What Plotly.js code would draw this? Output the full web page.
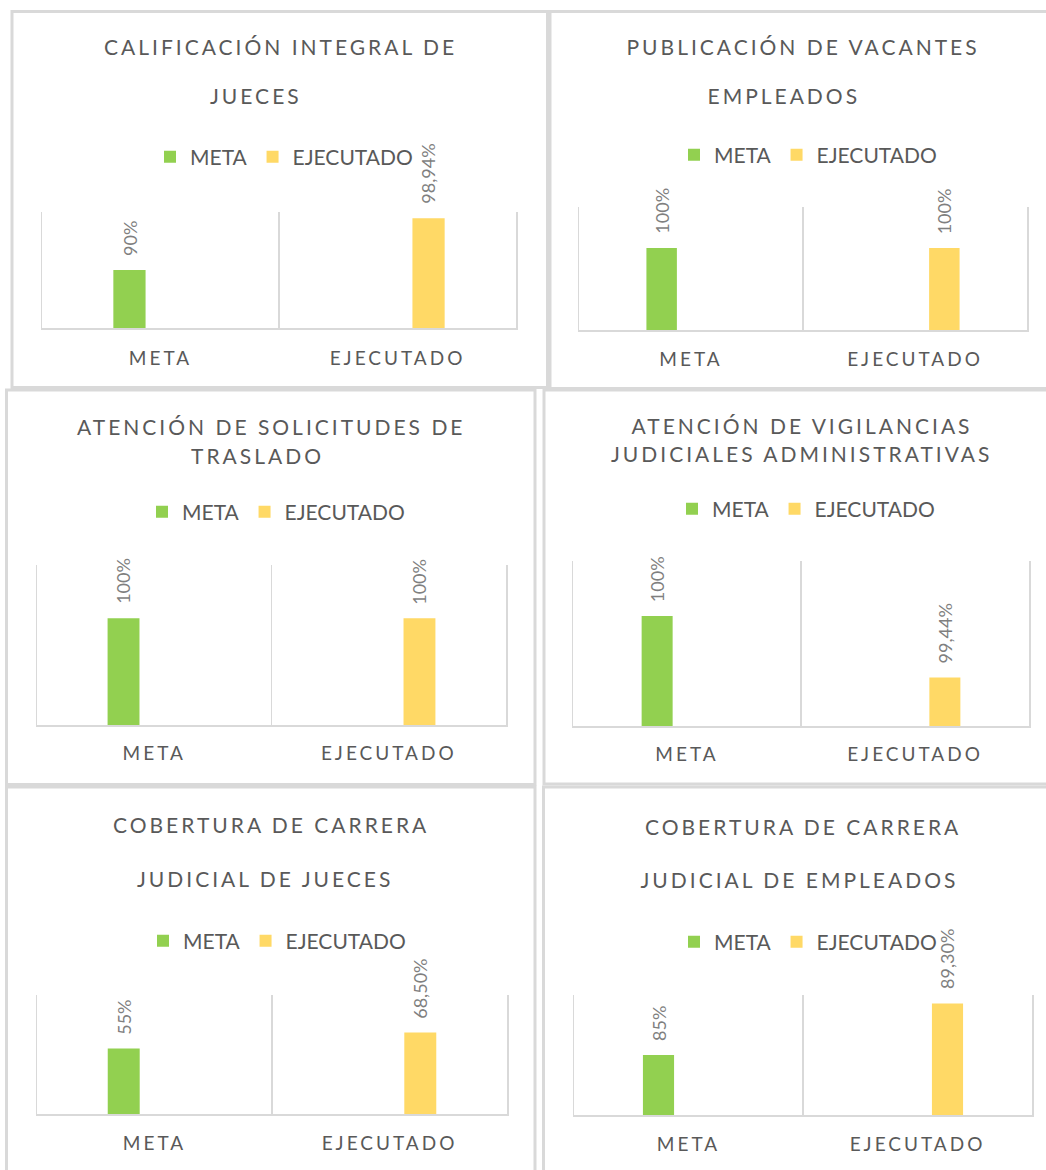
<!DOCTYPE html>
<html><head><meta charset="utf-8">
<script src="https://cdn.plot.ly/plotly-3.0.1.min.js"></script>
<style>
html,body{margin:0;padding:0;background:#fff;overflow:hidden}
#chart{width:1046px;height:1170px}
.xaxislayer-above text{letter-spacing:3px}
</style></head><body><div id="chart"></div>
<script>
// ---- data ----
const categories = ['META', 'EJECUTADO'];
const seriesNames = ['META', 'EJECUTADO'];
const titleLine1 = ['CALIFICACIÓN INTEGRAL DE', 'PUBLICACIÓN DE VACANTES', 'ATENCIÓN DE SOLICITUDES DE',
  'ATENCIÓN DE VIGILANCIAS', 'COBERTURA DE CARRERA', 'COBERTURA DE CARRERA'];
const titleLine2 = ['JUECES', 'EMPLEADOS', 'TRASLADO', 'JUDICIALES ADMINISTRATIVAS', 'JUDICIAL DE JUECES', 'JUDICIAL DE EMPLEADOS'];
const metaValues = [90, 100, 100, 100, 55, 85];
const ejecutadoValues = [98.94, 100, 100, 99.44, 68.5, 89.3];
const metaDecimals = [0, 0, 0, 0, 0, 0];
const ejecutadoDecimals = [2, 0, 0, 2, 2, 2];
const axisRanges = [[80, 100], [0, 150], [0, 150], [99, 100.5], [0, 100], [80, 90]];

// ---- layout (pixels) ----
const W = 1046, H = 1170;
const px = x => x / W, py = y => 1 - y / H;
const plotBoxes = [[42, 516, 212, 328], [579, 1027, 207, 330], [37, 506, 565, 725],
  [573, 1029, 561, 726], [37, 507, 995, 1114], [574, 1032, 995, 1115]];
const frames = [[12, 547.5, 11.5, 387.5], [550, 1050, 11.5, 388.5], [6.5, 535, 390, 784.5],
  [544, 1050, 390, 784], [6.5, 535, 787, 1175], [543.5, 1050, 787, 1175]];
const title1Pos = [[280, 47], [803, 47], [271, 426], [802, 425], [271, 824], [803, 826]];
const title2Pos = [[256, 95], [784, 95], [257, 456], [801, 454], [265, 878], [799, 879]];
const legendPos = [[284, 157], [808, 155], [276, 512], [806, 509], [277, 941], [808, 942]];
const tickStandoff = [12, 11, 10, 10, 11, 11];

const GREEN = '#92D050', YELLOW = '#FFD966';
const TXT = '#595959', LINE = '#d9d9d9';
const FONT = 'Lato, "Open Sans", sans-serif';
const barWidth = 0.136;       // in category units
const groupOffset = 0.131;    // bar centre distance from category centre

const fmt = (v, d) => v.toFixed(d).replace('.', ',') + '%';

const traces = [];
const layout = {
  width: W, height: H, margin: {l: 0, r: 0, t: 0, b: 0},
  paper_bgcolor: '#fff', plot_bgcolor: 'rgba(0,0,0,0)',
  barmode: 'overlay',
  showlegend: true, font: {family: FONT, color: TXT},
  annotations: [], shapes: []
};

for (let i = 0; i < 6; i++) {
  const s = i === 0 ? '' : String(i + 1);
  const xa = 'x' + s, ya = 'y' + s;
  const lg = 'legend' + s;
  const [x0, x1, y0, y1] = plotBoxes[i];
  traces.push({
    type: 'bar', x: [categories[0]], y: [metaValues[i]], name: seriesNames[0],
    width: barWidth, offset: -groupOffset - barWidth / 2,
    xaxis: xa, yaxis: ya, legend: lg, marker: {color: GREEN}, hoverinfo: 'skip'
  });
  traces.push({
    type: 'bar', x: [categories[1]], y: [ejecutadoValues[i]], name: seriesNames[1],
    width: barWidth, offset: groupOffset - barWidth / 2,
    xaxis: xa, yaxis: ya, legend: lg, marker: {color: YELLOW}, hoverinfo: 'skip'
  });
  layout['xaxis' + s] = {
    domain: [px(x0), px(x1)], anchor: ya, type: 'category',
    categoryorder: 'array', categoryarray: categories, range: [-0.5, 1.5],
    showline: true, linecolor: LINE, linewidth: 2,
    showgrid: true, gridcolor: LINE, gridwidth: 1.5, tickson: 'boundaries',
    ticks: '', ticklabelstandoff: tickStandoff[i],
    tickfont: {family: FONT, size: 19, color: TXT}, fixedrange: true, zeroline: false
  };
  layout['yaxis' + s] = {
    domain: [py(y1), py(y0)], anchor: xa, range: axisRanges[i],
    showline: true, mirror: true, linecolor: LINE, linewidth: 1.5,
    showgrid: false, zeroline: false, showticklabels: false, ticks: '', fixedrange: true
  };
  layout[lg] = {
    orientation: 'h', x: px(legendPos[i][0]), y: py(legendPos[i][1]),
    xanchor: 'center', yanchor: 'middle', xref: 'paper', yref: 'paper',
    font: {family: FONT, size: 21, color: TXT}, bgcolor: 'rgba(0,0,0,0)',
    itemclick: false, itemdoubleclick: false, traceorder: 'normal'
  };
  layout.annotations.push({
    text: titleLine1[i], x: px(title1Pos[i][0]), y: py(title1Pos[i][1]),
    xref: 'paper', yref: 'paper', xanchor: 'center', yanchor: 'middle', showarrow: false,
    font: {family: FONT, size: 21, color: TXT}
  });
  layout.annotations.push({
    text: titleLine2[i], x: px(title2Pos[i][0]), y: py(title2Pos[i][1]),
    xref: 'paper', yref: 'paper', xanchor: 'center', yanchor: 'middle', showarrow: false,
    font: {family: FONT, size: 21, color: TXT}
  });
  const fr = frames[i];
  layout.shapes.push({
    type: 'rect', xref: 'paper', yref: 'paper', x0: px(fr[0]), x1: px(fr[1]), y0: py(fr[3]), y1: py(fr[2]),
    line: {color: LINE, width: 3}, fillcolor: 'rgba(0,0,0,0)', layer: 'below'
  });
}
// data labels (rotated), placed at each bar's top through the axes
for (let i = 0; i < 6; i++) {
  const s = i === 0 ? '' : String(i + 1);
  const pairs = [[0 - groupOffset, metaValues[i], metaDecimals[i]], [1 + groupOffset, ejecutadoValues[i], ejecutadoDecimals[i]]];
  pairs.forEach(([xv, v, d]) => {
    layout.annotations.push({
      text: fmt(v, d), x: xv, y: v, xref: 'x' + s, yref: 'y' + s,
      xanchor: 'center', yanchor: 'bottom', textangle: -90, yshift: 12, showarrow: false,
      font: {family: FONT, size: 18, color: '#7f7f7f'}
    });
  });
}

Plotly.newPlot('chart', traces, layout, {staticPlot: true, displayModeBar: false}).then(() => {
  document.querySelectorAll('g.annotation').forEach(g => {
    const idx = +g.getAttribute('data-index');
    const t = g.querySelector('text');
    if (t && idx < 12) t.style.letterSpacing = '3px';
  });
});
</script></body></html>
